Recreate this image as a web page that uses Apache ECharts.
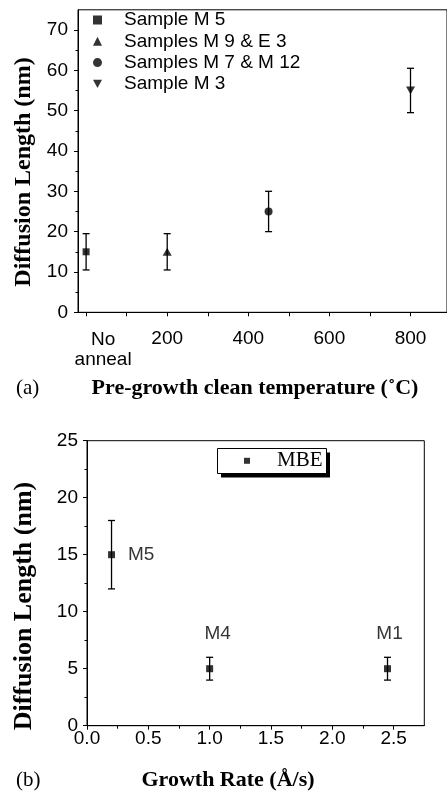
<!DOCTYPE html>
<html>
<head>
<meta charset="utf-8">
<script src="https://cdn.jsdelivr.net/npm/echarts@6/dist/echarts.min.js"></script>
<style>html,body{margin:0;padding:0;background:#fff;}#c{width:447px;height:793px;}</style>
</head>
<body>
<div id="c"></div>
<script>
// ---- Panel (a) data ----
const sampleNames = ['Sample M 5', 'Samples M 9 & E 3', 'Samples M 7 & M 12', 'Sample M 3'];
const annealTemp = [0, 200, 450, 800];
const diffLenA = [15, 15, 25, 55];
const errLowA = [10.5, 10.5, 20, 49.5];
const errHighA = [19.5, 19.5, 30, 60.5];
const xLabelValsA = [0, 200, 400, 600, 800];
const xLabelTextA = ['No\nanneal', '200', '400', '600', '800'];
const xTickValsA = [0, 100, 200, 300, 400, 500, 600, 700, 800];
const yLabelValsA = [0, 10, 20, 30, 40, 50, 60, 70];
const yMinorValsA = [5, 15, 25, 35, 45, 55, 65];

// ---- Panel (b) data ----
const sampleB = ['M5', 'M4', 'M1'];
const growthRate = [0.2, 1.0, 2.45];
const diffLenB = [15, 5, 5];
const errLowB = [12, 4, 4];
const errHighB = [18, 6, 6];
const xLabelValsB = [0, 0.5, 1.0, 1.5, 2.0, 2.5];
const xMinorValsB = [0.25, 0.75, 1.25, 1.75, 2.25];

const symbolsA = ['rect', 'triangle', 'circle', 'path://M0,0L10,0L5,9Z'];
const symbolSizesA = [7, [9, 8], 8, [9, 8]];

const SANS = '"Liberation Sans", Arial, sans-serif';
const SERIF = '"Liberation Serif", "Times New Roman", serif';

function errRender(params, api) {
  const x = api.value(0), lo = api.value(1), hi = api.value(2);
  const pLo = api.coord([x, lo]);
  const pHi = api.coord([x, hi]);
  const w = 3.5;
  const st = { stroke: '#000', lineWidth: 1.3 };
  return {
    type: 'group',
    children: [
      { type: 'line', shape: { x1: pLo[0], y1: pLo[1], x2: pHi[0], y2: pHi[1] }, style: st },
      { type: 'line', shape: { x1: pLo[0] - w, y1: pLo[1], x2: pLo[0] + w, y2: pLo[1] }, style: st },
      { type: 'line', shape: { x1: pHi[0] - w, y1: pHi[1], x2: pHi[0] + w, y2: pHi[1] }, style: st }
    ]
  };
}

const axisLineStyle = { show: true, onZero: false, lineStyle: { color: '#000', width: 1 } };
const labelStyle = { color: '#000', fontFamily: SANS, fontSize: 19 };

const seriesA = sampleNames.map((n, i) => ({
  name: n,
  type: 'scatter',
  xAxisIndex: 0, yAxisIndex: 0,
  symbol: symbolsA[i],
  symbolSize: symbolSizesA[i],
  itemStyle: { color: '#000' },
  data: [[annealTemp[i], diffLenA[i]]],
  z: 5
}));

const option = {
  animation: false,
  backgroundColor: '#fff',
  grid: [
    { left: 78, top: 9.8, right: -1.7, bottom: 480.7, show: true, borderColor: '#000', borderWidth: 1, backgroundColor: 'transparent' },
    { left: 87, top: 440.7, right: 22.7, bottom: 67.3, show: true, borderColor: '#000', borderWidth: 1, backgroundColor: 'transparent' }
  ],
  xAxis: [
    {
      gridIndex: 0, type: 'value', min: -20, max: 890, position: 'bottom',
      axisLine: axisLineStyle,
      axisTick: { show: true, inside: false, length: 4, customValues: xTickValsA, lineStyle: { color: '#000' } },
      axisLabel: Object.assign({}, labelStyle, {
        customValues: xLabelValsA, margin: 17, lineHeight: 19,
        formatter: v => v === 0 ? '{na|' + xLabelTextA[0] + '}' : xLabelTextA[xLabelValsA.indexOf(v)],
        rich: { na: { color: '#000', fontFamily: SANS, fontSize: 19, lineHeight: 20, padding: [0, 0, 0, 34] } }
      }),
      splitLine: { show: false }
    },
    {
      gridIndex: 1, type: 'value', min: 0, max: 2.75, position: 'bottom',
      axisLine: axisLineStyle,
      axisTick: { show: true, inside: false, length: 4, customValues: xLabelValsB, lineStyle: { color: '#000' } },
      axisLabel: Object.assign({}, labelStyle, {
        customValues: xLabelValsB, margin: 4,
        formatter: v => v.toFixed(1)
      }),
      splitLine: { show: false }
    },
    {
      gridIndex: 1, type: 'value', min: 0, max: 2.75, position: 'bottom',
      axisLine: { show: false, onZero: false },
      axisTick: { show: true, inside: false, length: 3, customValues: xMinorValsB, lineStyle: { color: '#000' } },
      axisLabel: { show: false },
      splitLine: { show: false }
    }
  ],
  yAxis: [
    {
      gridIndex: 0, type: 'value', min: 0, max: 75, position: 'left',
      axisLine: axisLineStyle,
      axisTick: { show: true, inside: false, length: 4, customValues: yLabelValsA, lineStyle: { color: '#000' } },
      axisLabel: Object.assign({}, labelStyle, { customValues: yLabelValsA, margin: 10 }),
      splitLine: { show: false }
    },
    {
      gridIndex: 1, type: 'value', min: 0, max: 25, interval: 5, position: 'left',
      axisLine: axisLineStyle,
      axisTick: { show: true, inside: false, length: 4, lineStyle: { color: '#000' } },
      minorTick: { show: true, splitNumber: 2, length: 2.5, lineStyle: { color: '#000' } },
      axisLabel: Object.assign({}, labelStyle, { margin: 9 }),
      splitLine: { show: false }
    },
    {
      gridIndex: 0, type: 'value', min: 0, max: 75, position: 'left',
      axisLine: { show: false, onZero: false },
      axisTick: { show: true, inside: false, length: 2.5, customValues: yMinorValsA, lineStyle: { color: '#000' } },
      axisLabel: { show: false },
      splitLine: { show: false }
    }
  ],
  legend: [
    {
      orient: 'vertical', left: 93, top: 10.5, padding: 0, itemGap: 2.3,
      itemWidth: 9, itemHeight: 9,
      data: sampleNames.map((n, i) => ({ name: n, icon: symbolsA[i] })),
      formatter: '{t|{name}}',
      textStyle: { color: '#000', fontFamily: SANS, fontSize: 19,
        rich: { t: { color: '#000', fontFamily: SANS, fontSize: 19, padding: [0, 0, 0, 17] } } },
      selectedMode: false
    },
    {
      orient: 'horizontal', left: 217, top: 448.3,
      padding: [2, 3, 2, 27],
      itemWidth: 6, itemHeight: 6,
      data: [{ name: 'MBE', icon: 'rect' }],
      formatter: '{t|{name}}',
      backgroundColor: 'transparent', borderWidth: 0,
      textStyle: { color: '#000', fontFamily: SERIF, fontSize: 21,
        rich: { t: { color: '#000', fontFamily: SERIF, fontSize: 21, padding: [0, 0, 0, 22] } } },
      selectedMode: false
    }
  ],
  series: seriesA.concat([
    {
      type: 'custom', xAxisIndex: 0, yAxisIndex: 0,
      renderItem: errRender,
      data: annealTemp.map((x, i) => [x, errLowA[i], errHighA[i]]),
      z: 4, silent: true
    },
    {
      name: 'MBE', type: 'scatter', xAxisIndex: 1, yAxisIndex: 1,
      symbol: 'rect', symbolSize: 7,
      itemStyle: { color: '#000' },
      label: { show: true, color: '#000', fontFamily: SANS, fontSize: 19, formatter: '{b}' },
      data: growthRate.map((x, i) => ({
        name: sampleB[i],
        value: [x, diffLenB[i]],
        label: i === 0 ? { position: 'right', distance: 13 }
             : { position: 'top', distance: 22, offset: [i === 1 ? 8 : 2, 0] }
      })),
      z: 5
    },
    {
      type: 'custom', xAxisIndex: 1, yAxisIndex: 1,
      renderItem: errRender,
      data: growthRate.map((x, i) => [x, errLowB[i], errHighB[i]]),
      z: 4, silent: true
    }
  ]),
  graphic: [
    // legend box shadow and frame for panel (b)
    { type: 'rect', z: 1, shape: { x: 221, y: 452.5, width: 109, height: 25 }, style: { fill: '#000' } },
    { type: 'rect', z: 2, shape: { x: 217.5, y: 448.5, width: 109, height: 25 }, style: { fill: '#fff', stroke: '#000', lineWidth: 1 } },
    { type: 'text', x: 24, y: 172, rotation: Math.PI / 2,
      style: { text: 'Diffusion Length (nm)', font: 'bold 24px ' + SERIF, fill: '#000', textAlign: 'center', textVerticalAlign: 'middle' } },
    { type: 'text', x: 24, y: 606, rotation: Math.PI / 2,
      style: { text: 'Diffusion Length (nm)', font: 'bold 26px ' + SERIF, fill: '#000', textAlign: 'center', textVerticalAlign: 'middle' } },
    { type: 'text', x: 16, y: 388,
      style: { text: '(a)', font: '21px ' + SERIF, fill: '#000', textAlign: 'left', textVerticalAlign: 'middle' } },
    { type: 'text', x: 255, y: 388,
      style: { text: 'Pre-growth clean temperature (˚C)', font: 'bold 22px ' + SERIF, fill: '#000', textAlign: 'center', textVerticalAlign: 'middle' } },
    { type: 'text', x: 16, y: 780,
      style: { text: '(b)', font: '21px ' + SERIF, fill: '#000', textAlign: 'left', textVerticalAlign: 'middle' } },
    { type: 'text', x: 228, y: 780,
      style: { text: 'Growth Rate (Å/s)', font: 'bold 22px ' + SERIF, fill: '#000', textAlign: 'center', textVerticalAlign: 'middle' } }
  ]
};

const chart = echarts.init(document.getElementById('c'), null, { renderer: 'canvas' });
chart.setOption(option);
</script>
</body>
</html>
